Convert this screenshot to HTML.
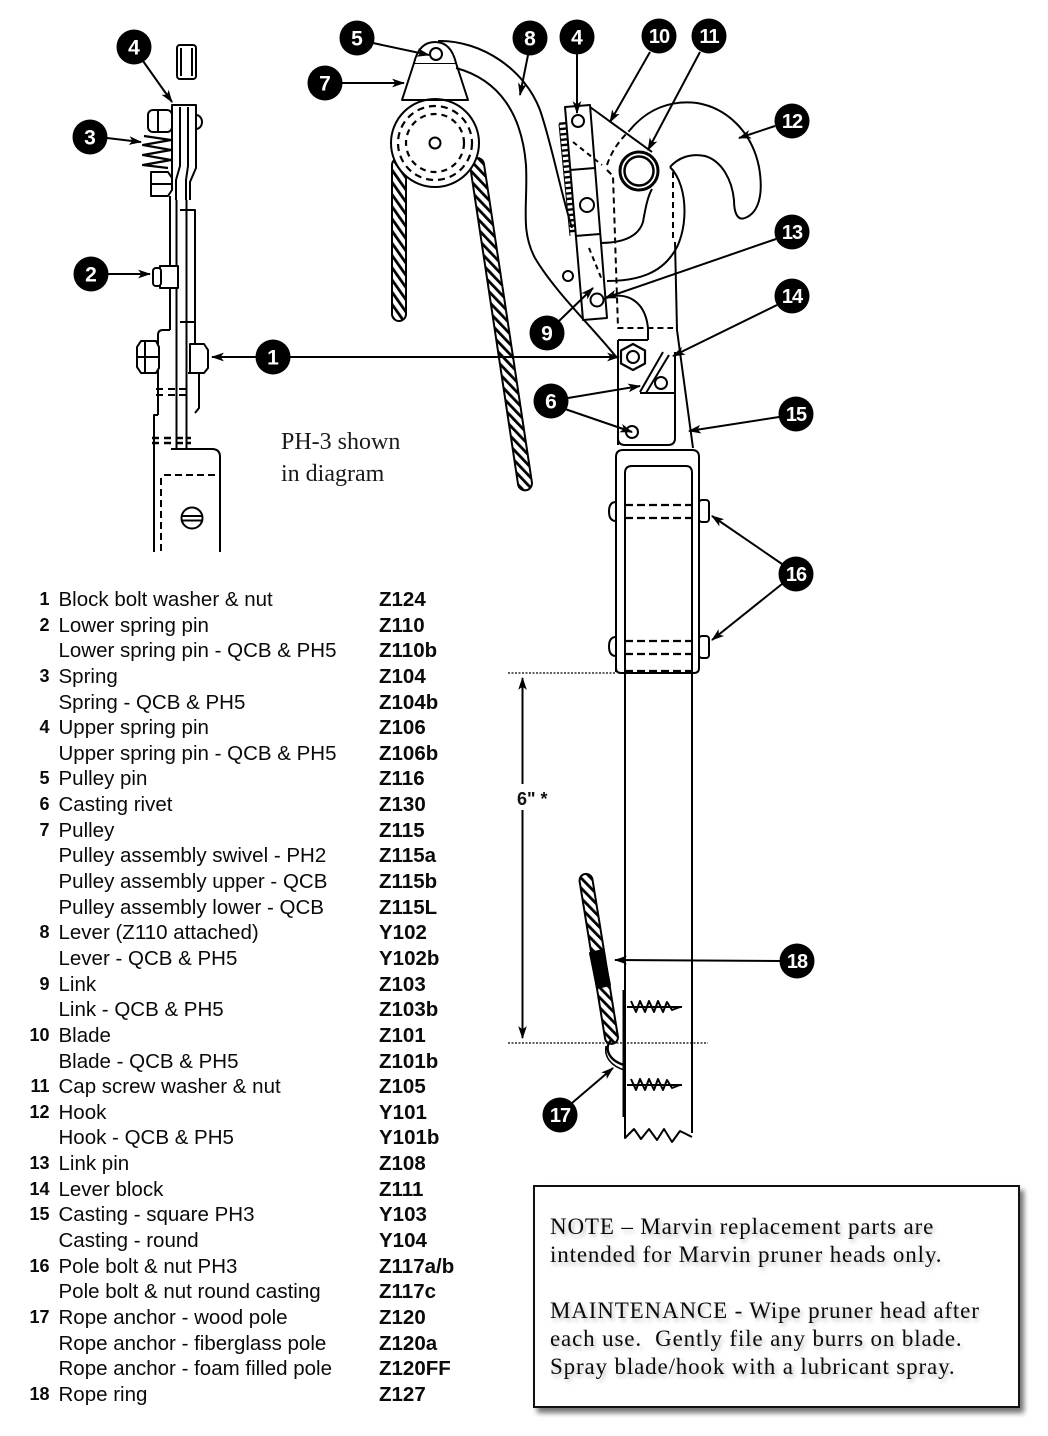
<!DOCTYPE html>
<html><head><meta charset="utf-8"><style>
html,body{margin:0;padding:0;background:#fff;}
body{width:1048px;height:1436px;position:relative;overflow:hidden;font-family:"Liberation Sans",Arial,sans-serif;color:#0a0a0a;}
svg{position:absolute;left:0;top:0;}
.list{position:absolute;left:0;top:587px;width:520px;}
.r{position:relative;height:25.65px;line-height:25.65px;font-size:20.5px;white-space:nowrap;}
.n{position:absolute;left:10px;width:39.5px;text-align:right;font-weight:bold;font-size:18px;}
.d{position:absolute;left:58.5px;}
.c{position:absolute;left:379px;font-weight:bold;}
.note{position:absolute;left:533px;top:1185px;width:483px;height:219px;border:2px solid #111;box-shadow:4px 5px 5px rgba(0,0,0,0.55);background:#fff;}
.nt{position:absolute;left:550px;top:1213px;font-family:"Liberation Serif",serif;font-size:23px;line-height:28px;letter-spacing:0.85px;color:#0a0a0a;text-shadow:2px 3px 4px rgba(0,0,0,0.28);white-space:nowrap;}
.ph{position:absolute;left:281px;top:426px;font-family:"Liberation Serif",serif;font-size:24px;line-height:32px;color:#1a1a1a;white-space:nowrap;}
</style></head><body>
<svg width="1048" height="1436" viewBox="0 0 1048 1436" xmlns="http://www.w3.org/2000/svg">
<defs>
<marker id="a" viewBox="0 0 12 8" refX="11" refY="4" markerWidth="13" markerHeight="9" markerUnits="userSpaceOnUse" orient="auto"><path d="M0,0 L12,4 L0,8 L3,4 Z" fill="#000"/></marker>
<marker id="as" viewBox="0 0 12 8" refX="1" refY="4" markerWidth="13" markerHeight="9" markerUnits="userSpaceOnUse" orient="auto"><path d="M12,0 L0,4 L12,8 L9,4 Z" fill="#000"/></marker>
<pattern id="rp" patternUnits="userSpaceOnUse" width="7" height="7" patternTransform="rotate(-35)"><rect width="7" height="7" fill="#fff"/><rect width="2.8" height="7" fill="#000"/></pattern>
</defs>

<g stroke="#000" stroke-width="2" fill="none" stroke-linejoin="round">
<!-- ===== LEFT SIDE VIEW ===== -->
<rect x="177" y="45" width="19" height="34" rx="3" fill="#fff"/>
<line x1="181" y1="48" x2="181" y2="76"/><line x1="192" y1="48" x2="192" y2="76"/>
<path d="M172,190 L172,105 L196,105 L196,168 L190,182 L190,200" fill="#fff"/>
<path d="M180,107 L180,166 L176,180 L176,200"/>
<path d="M188,107 L188,166 L186,180 L186,200"/>
<path d="M196,115 A6,7 0 0 1 196,129"/>
<rect x="148" y="110" width="24" height="22" rx="5" fill="#fff"/>
<line x1="158" y1="111" x2="158" y2="131"/>
<polyline points="144,136 171,140 143,145 171,150 143,155 171,160 143,165 168,168" stroke-width="2.2"/>
<path d="M151,172 L168,172 L172,178 L172,190 L168,196 L151,196 Z" fill="#fff"/>
<line x1="151" y1="184" x2="172" y2="184"/>
<line x1="170" y1="196" x2="170" y2="330"/>
<line x1="176.5" y1="200" x2="176.5" y2="449"/>
<line x1="186.5" y1="200" x2="186.5" y2="449"/>
<path d="M180,210 L195,210 L195,322 L180,322"/>
<rect x="160" y="266" width="18" height="22" fill="#fff"/>
<rect x="153" y="268" width="8" height="18" rx="3" fill="#fff"/>
<path d="M158,415 L158,335 Q158,330 163,330 L170,330"/>
<path d="M158,415 L154,415 L154,552"/>
<path d="M141,341 L156,341 L159,347 L159,368 L156,373 L141,373 L137,367 L137,347 Z" fill="#fff"/>
<line x1="137" y1="357" x2="159" y2="357"/><line x1="145" y1="341" x2="145" y2="373"/>
<path d="M190,344 L204,344 L208,350 L208,368 L204,373 L190,373 Z" fill="#fff"/>
<path d="M188,373 L199,373 L199,408 L195,413"/>
<line x1="195" y1="322" x2="195" y2="344"/>
<path d="M156,389 H163 M168,389 H175 M179,389 H186" />
<path d="M156,395 H163 M168,395 H175 M179,395 H186" />
<path d="M152,438 H159 M164,438 H171 M176,438 H183 M186,438 H191" stroke-width="2.4"/>
<path d="M152,443 H159 M164,443 H171 M176,443 H183 M186,443 H191" stroke-width="2.4"/>
<path d="M171,449 L212,449 Q220,449 220,457 L220,552"/>
<path d="M164,475 L220,475" stroke-dasharray="7 4"/>
<path d="M161,478 L161,552" stroke-dasharray="7 4"/>
<circle cx="192" cy="518" r="10.5" fill="#fff"/>
<path d="M182,516 H202 M182,520.5 H202"/>

<!-- ===== PULLEY ===== -->
<g transform="translate(399,158)"><rect x="-7" y="0" width="14" height="163" rx="7" fill="url(#rp)"/></g>
<g transform="translate(476,158) rotate(-8.56)"><rect x="-7" y="0" width="14" height="336" rx="7" fill="url(#rp)"/></g>
<path d="M402,100 L414,63 L456,63 L468,100 Z" fill="#fff"/>
<path d="M414,63 Q419,42 435,42 Q451,42 456,63" fill="#fff"/>
<circle cx="436" cy="54" r="6" fill="#fff"/>
<circle cx="435" cy="143" r="44" fill="#fff"/>
<line x1="403" y1="100" x2="467" y2="100"/>
<circle cx="435" cy="143" r="37" stroke-dasharray="7 5" stroke-width="2.2"/>
<circle cx="435" cy="143" r="29" stroke-dasharray="6 5" stroke-width="2.2"/>
<circle cx="435" cy="143" r="5.5"/>

<!-- ===== LEVER ===== -->
<path d="M438,41 C482,40 525,70 540,110 C552,145 560,190 572,228"/>
<path d="M456,68 C500,80 522,115 526,165 C528,205 520,230 535,258 C555,292 595,330 617,358"/>

<!-- ===== HEAD ===== -->
<line x1="565" y1="122" x2="576" y2="234" stroke-width="12" stroke-dasharray="2.4 3"/>
<line x1="559" y1="124" x2="570" y2="236" stroke-width="1"/>
<polygon points="565,107 590,105 607,318 583,320" fill="#fff"/>
<line x1="570" y1="170" x2="595" y2="168"/>
<line x1="575" y1="236" x2="600" y2="234"/>
<line x1="573" y1="142" x2="602" y2="165" stroke-dasharray="5 4"/>
<line x1="589" y1="248" x2="602" y2="280" stroke-dasharray="5 4"/>
<circle cx="578" cy="121" r="6" fill="#fff"/>
<circle cx="587" cy="205" r="7" fill="#fff"/>
<circle cx="597" cy="300" r="6.5" fill="#fff"/>
<circle cx="568" cy="276" r="5"/>
<path d="M590,107 L652,152"/>
<path d="M670,167 C690,187 688,235 672,255 C660,272 640,281 607,281"/>
<path d="M600,243 C620,243 638,238 643,222 C646,205 648,196 652,189"/>
<path d="M607,165 C612,150 620,140 630,130" stroke-dasharray="6 4"/>
<path d="M630,130 C648,108 672,100 697,103 C727,108 752,132 759,167 C764,196 758,213 745,218 C737,221 734,212 734,200 C732,180 722,161 705,156 C690,153 678,158 670,167"/>
<path d="M673,172 L673,238" stroke-dasharray="6 4"/>
<path d="M675,242 L677,330 L693,448"/>
<path d="M607,170 L613,176 L618,328 L673,328" stroke-dasharray="6 4"/>
<circle cx="639" cy="171" r="19" stroke-width="3" fill="#fff"/>
<circle cx="639" cy="171" r="14.5" stroke-width="2.5"/>
<path d="M604,299 C625,290 645,300 648,328 L648,340"/>
<path d="M618,340 L648,340 M618,340 L618,445 M675,352 L675,438 Q675,445 668,445 L625,445 Q618,445 618,438" fill="#fff"/>
<line x1="640" y1="393" x2="675" y2="393"/>
<path d="M663,352 L640,392 M669,355 L646,393"/>
<polygon points="633,344 645,350.5 645,363.5 633,370 621,363.5 621,350.5" fill="#fff" stroke-width="2.2"/>
<circle cx="633" cy="357" r="6"/>
<circle cx="661" cy="383" r="6"/>
<circle cx="632" cy="432" r="6"/>

<!-- ===== POLE ===== -->
<path d="M616,672 L616,457 Q616,450 623,450 L692,450 Q699,450 699,457 L699,668 Q699,673 694,673 L621,673 Q616,673 616,668" fill="#fff"/>
<path d="M625,1130 L625,473 Q625,466 632,466 L686,466 Q692,466 692,473 L692,1133" />
<path d="M625,505 H692 M625,518 H692 M625,641 H692 M625,654 H692 M625,671 H692" stroke-dasharray="8 4" stroke-width="2.2"/>
<path d="M616,502 Q609,502 609,511.5 Q609,521 616,521"/>
<path d="M616,637 Q609,637 609,646.5 Q609,656 616,656"/>
<rect x="699" y="500" width="10" height="22" rx="3" fill="#fff"/>
<rect x="699" y="636" width="10" height="22" rx="3" fill="#fff"/>
<polyline points="625,1130 625,1138 634,1129 641,1139 649,1129 657,1140 664,1129 672,1142 680,1131 692,1137"/>
<g transform="translate(585,874) rotate(-9.2)"><rect x="-6.5" y="0" width="13" height="172" rx="6.5" fill="url(#rp)"/></g>
<polygon points="590,953 603,950 610,985 597,988" fill="#000"/>
<path d="M611,1040 C604,1048 608,1060 624,1065" stroke-width="2.4"/>
<path d="M606,1046 C604,1058 612,1066 624,1070" stroke-width="1.5"/>
<line x1="624" y1="990" x2="624" y2="1117" stroke-width="3"/>
<polyline points="627,1007 682,1007" />
<polyline points="631,1001 636,1012 640,1001 645,1012 649,1001 654,1012 658,1001 663,1012 667,1002 672,1010 680,1007" />
<polyline points="627,1085 682,1085" />
<polyline points="631,1079 636,1090 640,1079 645,1090 649,1079 654,1090 658,1079 663,1090 667,1080 672,1088 680,1085" />

<!-- dimension -->
<line x1="508" y1="673" x2="616" y2="673" stroke-width="1.2" stroke-dasharray="2 1.5"/>
<line x1="508" y1="1043" x2="708" y2="1043" stroke-width="1.2" stroke-dasharray="2 1.5"/>
<line x1="522.5" y1="678" x2="522.5" y2="1038" marker-start="url(#as)" marker-end="url(#a)"/>

<!-- ===== CALLOUT ARROWS ===== -->
<g marker-end="url(#a)" stroke-width="2">
<line x1="143" y1="61" x2="172" y2="102"/>
<line x1="107" y1="138" x2="141" y2="142"/>
<line x1="108" y1="274" x2="150" y2="274"/>
<line x1="256" y1="357" x2="212" y2="357"/>
<line x1="290" y1="357" x2="619" y2="357"/>
<line x1="373" y1="43" x2="429" y2="55"/>
<line x1="342" y1="83" x2="404" y2="83"/>
<line x1="528" y1="55" x2="520" y2="95"/>
<line x1="577" y1="54" x2="577" y2="113"/>
<line x1="650" y1="52" x2="610" y2="122"/>
<line x1="700" y1="52" x2="648" y2="150"/>
<line x1="775" y1="126" x2="739" y2="138"/>
<line x1="776" y1="239" x2="605" y2="298"/>
<line x1="777" y1="305" x2="673" y2="356"/>
<line x1="559" y1="321" x2="593" y2="288"/>
<line x1="568" y1="398" x2="640" y2="386"/>
<line x1="565" y1="409" x2="632" y2="432"/>
<line x1="779" y1="417" x2="689" y2="431"/>
<line x1="782" y1="564" x2="712" y2="516"/>
<line x1="782" y1="584" x2="712" y2="640"/>
<line x1="780" y1="961" x2="615" y2="960"/>
<line x1="572" y1="1103" x2="613" y2="1068"/>
</g>
</g>

<!-- callout circles -->
<g fill="#000">
<circle cx="134" cy="47" r="17.5"/><circle cx="90" cy="137" r="17.5"/><circle cx="91" cy="274" r="17.5"/><circle cx="273" cy="357" r="17.5"/>
<circle cx="357" cy="38" r="17.5"/><circle cx="325" cy="83" r="17.5"/><circle cx="530" cy="38" r="17.5"/><circle cx="577" cy="37" r="17.5"/>
<circle cx="659" cy="36" r="17.5"/><circle cx="709" cy="36" r="17.5"/><circle cx="792" cy="121" r="17.5"/><circle cx="792" cy="232" r="17.5"/>
<circle cx="792" cy="296" r="17.5"/><circle cx="547" cy="333" r="17.5"/><circle cx="551" cy="401" r="17.5"/><circle cx="796" cy="414" r="17.5"/>
<circle cx="796" cy="574" r="17.5"/><circle cx="797" cy="961" r="17.5"/><circle cx="560" cy="1115" r="17.5"/>
</g>
<g fill="#fff" font-family="Liberation Sans, Arial, sans-serif" font-weight="bold" font-size="21" text-anchor="middle">
<text x="134" y="54.5">4</text><text x="90" y="144.5">3</text><text x="91" y="281.5">2</text><text x="273" y="364.5">1</text>
<text x="357" y="45.5">5</text><text x="325" y="90.5">7</text><text x="530" y="45.5">8</text><text x="577" y="44.5">4</text>
<text x="547" y="340.5">9</text><text x="551" y="408.5">6</text>
</g>
<g fill="#fff" font-family="Liberation Sans, Arial, sans-serif" font-weight="bold" font-size="20" text-anchor="middle" letter-spacing="-1">
<text x="659" y="43">10</text><text x="709" y="43">11</text><text x="792" y="128">12</text><text x="792" y="239">13</text>
<text x="792" y="303">14</text><text x="796" y="421">15</text><text x="796" y="581">16</text><text x="797" y="968">18</text><text x="560" y="1122">17</text>
</g>
<rect x="514" y="784" width="46" height="26" fill="#fff"/>
<text x="517" y="805" font-family="Liberation Sans, Arial, sans-serif" font-weight="bold" font-size="18" fill="#111">6" *</text>
</svg>

<div class="ph">PH-3 shown<br>in diagram</div>

<div class="list">
<div class="r"><span class="n">1</span><span class="d">Block bolt washer &amp; nut</span><span class="c">Z124</span></div>
<div class="r"><span class="n">2</span><span class="d">Lower spring pin</span><span class="c">Z110</span></div>
<div class="r"><span class="d">Lower spring pin - QCB &amp; PH5</span><span class="c">Z110b</span></div>
<div class="r"><span class="n">3</span><span class="d">Spring</span><span class="c">Z104</span></div>
<div class="r"><span class="d">Spring - QCB &amp; PH5</span><span class="c">Z104b</span></div>
<div class="r"><span class="n">4</span><span class="d">Upper spring pin</span><span class="c">Z106</span></div>
<div class="r"><span class="d">Upper spring pin - QCB &amp; PH5</span><span class="c">Z106b</span></div>
<div class="r"><span class="n">5</span><span class="d">Pulley pin</span><span class="c">Z116</span></div>
<div class="r"><span class="n">6</span><span class="d">Casting rivet</span><span class="c">Z130</span></div>
<div class="r"><span class="n">7</span><span class="d">Pulley</span><span class="c">Z115</span></div>
<div class="r"><span class="d">Pulley assembly swivel - PH2</span><span class="c">Z115a</span></div>
<div class="r"><span class="d">Pulley assembly upper - QCB</span><span class="c">Z115b</span></div>
<div class="r"><span class="d">Pulley assembly lower - QCB</span><span class="c">Z115L</span></div>
<div class="r"><span class="n">8</span><span class="d">Lever (Z110 attached)</span><span class="c">Y102</span></div>
<div class="r"><span class="d">Lever - QCB &amp; PH5</span><span class="c">Y102b</span></div>
<div class="r"><span class="n">9</span><span class="d">Link</span><span class="c">Z103</span></div>
<div class="r"><span class="d">Link - QCB &amp; PH5</span><span class="c">Z103b</span></div>
<div class="r"><span class="n">10</span><span class="d">Blade</span><span class="c">Z101</span></div>
<div class="r"><span class="d">Blade - QCB &amp; PH5</span><span class="c">Z101b</span></div>
<div class="r"><span class="n">11</span><span class="d">Cap screw washer &amp; nut</span><span class="c">Z105</span></div>
<div class="r"><span class="n">12</span><span class="d">Hook</span><span class="c">Y101</span></div>
<div class="r"><span class="d">Hook - QCB &amp; PH5</span><span class="c">Y101b</span></div>
<div class="r"><span class="n">13</span><span class="d">Link pin</span><span class="c">Z108</span></div>
<div class="r"><span class="n">14</span><span class="d">Lever block</span><span class="c">Z111</span></div>
<div class="r"><span class="n">15</span><span class="d">Casting - square PH3</span><span class="c">Y103</span></div>
<div class="r"><span class="d">Casting - round</span><span class="c">Y104</span></div>
<div class="r"><span class="n">16</span><span class="d">Pole bolt &amp; nut PH3</span><span class="c">Z117a/b</span></div>
<div class="r"><span class="d">Pole bolt &amp; nut round casting</span><span class="c">Z117c</span></div>
<div class="r"><span class="n">17</span><span class="d">Rope anchor - wood pole</span><span class="c">Z120</span></div>
<div class="r"><span class="d">Rope anchor - fiberglass pole</span><span class="c">Z120a</span></div>
<div class="r"><span class="d">Rope anchor - foam filled pole</span><span class="c">Z120FF</span></div>
<div class="r"><span class="n">18</span><span class="d">Rope ring</span><span class="c">Z127</span></div>
</div>

<div class="note"></div>
<div class="nt">NOTE – Marvin replacement parts are<br>intended for Marvin pruner heads only.<br><br>MAINTENANCE - Wipe pruner head after<br>each use.&nbsp; Gently file any burrs on blade.<br>Spray blade/hook with a lubricant spray.</div>
</body></html>
